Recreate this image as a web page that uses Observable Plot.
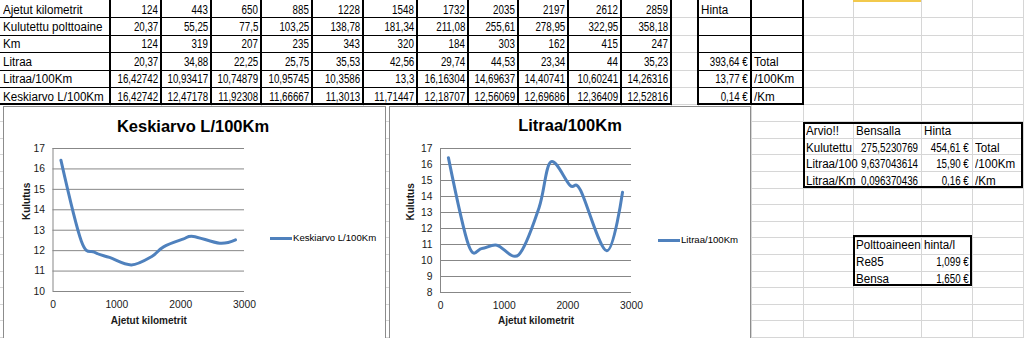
<!DOCTYPE html>
<html><head><meta charset="utf-8">
<script src="https://cdn.jsdelivr.net/npm/d3@7"></script>
<script src="https://cdn.jsdelivr.net/npm/@observablehq/plot@0.6"></script>
<style>
html,body{margin:0;padding:0;}
body{width:1024px;height:338px;overflow:hidden;background:#fff;position:relative;
 font-family:"Liberation Sans",Arial,sans-serif;}
.ab{position:absolute;box-sizing:border-box;}
.t{position:absolute;box-sizing:border-box;white-space:nowrap;font-size:12.5px;color:#000;overflow:visible;}
.t span{position:absolute;top:1.5px;white-space:nowrap;}
.g{position:absolute;background:#d6d6d6;}
.k{position:absolute;background:#000;}
.chartbox{position:absolute;background:#fff;border:1px solid #8c8c8c;box-sizing:border-box;}
.title{position:absolute;font-weight:bold;font-size:16.5px;color:#000;white-space:nowrap;transform:translate(-50%,-50%);}
.leg{position:absolute;font-size:9.6px;color:#000;white-space:nowrap;}
.legline{position:absolute;height:3px;background:#4F81BD;}
</style>
</head><body>
<script>
// ---------------- data ----------------
const rowLabels = ["Ajetut kilometrit","Kulutettu polttoaine","Km","Litraa","Litraa/100Km","Keskiarvo L/100Km"];
const ajetutKm = [124,443,650,885,1228,1548,1732,2035,2197,2612,2859];
const kulutettu = [20.37,55.25,77.5,103.25,138.78,181.34,211.08,255.61,278.95,322.95,358.18];
const kmLeg = [124,319,207,235,343,320,184,303,162,415,247];
const litraa = [20.37,34.88,22.25,25.75,35.53,42.56,29.74,44.53,23.34,44,35.23];
const litraa100 = [16.42742,10.93417,10.74879,10.95745,10.3586,13.3,16.16304,14.69637,14.40741,10.60241,14.26316];
const keskiarvo = [16.42742,12.47178,11.92308,11.66667,11.3013,11.71447,12.18707,12.56069,12.69686,12.36409,12.52816];
const hintaValues = ["Hinta","","","393,64 €","13,77 €","0,14 €"];
const hintaUnits = ["","","","Total","/100Km","/Km"];
const arvioLabels = ["Arvio!!","Kulutettu","Litraa/100","Litraa/Km"];
const arvioBensalla = ["Bensalla","275,5230769","9,637043614","0,096370436"];
const arvioHinta = ["Hinta","454,61 €","15,90 €","0,16 €"];
const arvioUnit = ["","Total","/100Km","/Km"];
const fuelNames = ["Polttoaineen","Re85","Bensa"];
const fuelPrices = ["hinta/l","1,099 €","1,650 €"];
const xTicks = [0,1000,2000,3000];
const yTicks1 = [10,11,12,13,14,15,16,17];
const yTicks2 = [8,9,10,11,12,13,14,15,16,17];
const chartTitles = ["Keskiarvo L/100Km","Litraa/100Km"];
const yLabel = "Kulutus";
const xLabel = "Ajetut kilometrit";

// ---------------- helpers ----------------
const fmt = v => String(v).replace(".", ",");
const body = document.body;
const LABEL_SCALE = 0.93, NUM_SCALE = 0.78;
function el(cls, css, text){
  const d = document.createElement("div");
  d.className = cls;
  Object.assign(d.style, css);
  if (text != null) d.textContent = text;
  body.appendChild(d);
  return d;
}
function cell(x0,x1,y0,y1,text,align){
  const d = el("t",{left:x0+"px",top:y0+"px",width:(x1-x0)+"px",height:(y1-y0)+"px",
    lineHeight:(y1-y0)+"px"});
  const s = document.createElement("span");
  s.textContent = text;
  s.style.lineHeight = (y1-y0)+"px";
  const numeric = /^[0-9]/.test(text);
  s.style.transform = `scaleX(${numeric ? NUM_SCALE : LABEL_SCALE})`;
  if (align === "right") { s.style.right = "3px"; s.style.transformOrigin = "right center"; }
  else { s.style.left = "3px"; s.style.transformOrigin = "left center"; }
  d.appendChild(s);
}

// ---------------- sheet gridlines ----------------
const upperRow = 17.4;
for (let k=1;k<=6;k++) el("g",{left:"0px",top:(k*upperRow)+"px",width:"1024px",height:"1px"});
for (let k=1;k<=14;k++) el("g",{left:"0px",top:(104.5+16.6*k)+"px",width:"1024px",height:"1px"});
[110,161,211,261,312,363,417,468,518,568,621,671,698,751,803,853,921,972,1023].forEach(x=>
  el("g",{left:x+"px",top:"0px",width:"1px",height:"338px"}));
el("ab",{left:"853px",top:"0px",width:"68px",height:"2px",background:"#f2c94c"});

// ---------------- main table ----------------
const colEdges = [0,110,161,211,261,312,363,417,468,518,568,621,671];
const tableRows = [ajetutKm, kulutettu, kmLeg, litraa, litraa100, keskiarvo];
el("ab",{left:"0px",top:"0px",width:"671px",height:"105px",background:"#fff"});
tableRows.forEach((row,r)=>{
  const y0 = r*upperRow, y1 = (r+1)*upperRow;
  cell(colEdges[0],colEdges[1],y0,y1,rowLabels[r],"left");
  row.forEach((v,i)=>cell(colEdges[i+1],colEdges[i+2],y0,y1,fmt(v),"right"));
});
for (let k=1;k<6;k++) el("k",{left:"0px",top:(k*upperRow)+"px",width:"671px",height:"1px"});
el("k",{left:"0px",top:"103px",width:"672px",height:"2px"});
colEdges.slice(1).forEach(x=>el("k",{left:(x-1)+"px",top:"0px",width:"2px",height:"105px"}));

// ---------------- hinta table ----------------
const hCols = [698,751,803];
el("ab",{left:"698px",top:"0px",width:"105px",height:"105px",background:"#fff"});
hintaValues.forEach((v,r)=>{
  const y0=r*upperRow,y1=(r+1)*upperRow;
  cell(hCols[0],hCols[1],y0,y1,v,r===0?"left":"right");
  cell(hCols[1],hCols[2],y0,y1,hintaUnits[r],"left");
});
for (let k=1;k<6;k++) el("k",{left:"698px",top:(k*upperRow)+"px",width:"105px",height:"1px"});
el("k",{left:"698px",top:"103px",width:"105px",height:"2px"});
el("k",{left:"697px",top:"0px",width:"2px",height:"105px"});
el("k",{left:"750px",top:"0px",width:"1.5px",height:"105px"});
el("k",{left:"802px",top:"0px",width:"2px",height:"105px"});

// ---------------- arvio box ----------------
const aRow = 16.5, aTop = 121.5;
el("ab",{left:"803px",top:aTop+"px",width:"220px",height:(4*aRow)+"px",border:"2px solid #000"});
arvioLabels.forEach((v,r)=>{
  const y0=aTop+r*aRow,y1=y0+aRow;
  cell(803,853,y0,y1,v,"left");
  cell(853,921,y0,y1,arvioBensalla[r],r===0?"left":"right");
  cell(921,972,y0,y1,arvioHinta[r],r===0?"left":"right");
  cell(972,1023,y0,y1,arvioUnit[r],"left");
});

// ---------------- fuel price box ----------------
const fTop = 235, fRow = 17;
el("ab",{left:"853px",top:fTop+"px",width:"119px",height:(3*fRow)+"px",border:"2px solid #000",background:"transparent"});
fuelNames.forEach((v,r)=>{
  const y0=fTop+r*fRow,y1=y0+fRow;
  cell(853,921,y0,y1,v,"left");
  cell(921,972,y0,y1,fuelPrices[r],r===0?"left":"right");
});

// ---------------- charts ----------------
const axisFont = '"Liberation Sans", Arial, sans-serif';
function makeChart(opts){
  const {values, yDomain, yTicks, width, height, ml, mr, mt, mb, yLabDx, xLabDy} = opts;
  const data = ajetutKm.map((x,i)=>({x, y: values[i]}));
  return Plot.plot({
    width, height, marginLeft: ml, marginRight: mr, marginTop: mt, marginBottom: mb,
    style: {fontFamily: axisFont, fontSize: "10.3px", color: "#1a1a1a", background: "transparent", overflow: "visible"},
    x: {domain: [0,3000], ticks: xTicks, tickSize: 0, tickPadding: 9, label: null, tickFormat: d => String(d)},
    y: {domain: yDomain, ticks: yTicks, tickSize: 0, tickPadding: 8, label: null, tickFormat: d => String(d)},
    marks: [
      Plot.ruleY(yTicks, {stroke: "#878787", strokeWidth: 1}),
      Plot.ruleX([0], {stroke: "#878787", strokeWidth: 1}),
      Plot.line(data, {x: "x", y: "y", curve: "cardinal", stroke: "#4F81BD", strokeWidth: 3, strokeLinejoin: "round", strokeLinecap: "round"}),
      Plot.text([yLabel], {text: d => d, frameAnchor: "left", dx: yLabDx, rotate: -90, fontWeight: "bold", fontSize: 10}),
      Plot.text([xLabel], {text: d => d, frameAnchor: "bottom", dy: xLabDy, fontWeight: "bold", fontSize: 10})
    ]
  });
}

// chart 1
el("chartbox",{left:"3px",top:"106px",width:"383px",height:"240px"});
const c1 = makeChart({values: keskiarvo, yDomain:[10,17], yTicks: yTicks1, width:382, height:231,
  ml:49.5, mr:141, mt:41, mb:47, yLabDx:-26, xLabDy:32});
c1.style.position="absolute"; c1.style.left="3px"; c1.style.top="107px";
body.appendChild(c1);
el("title",{left:"193px",top:"126px"}, chartTitles[0]);
el("legline",{left:"270px",top:"237px",width:"22px"});
el("leg",{left:"293px",top:"232px"}, chartTitles[0]);

// chart 2
el("chartbox",{left:"389px",top:"106px",width:"362px",height:"240px"});
const c2 = makeChart({values: litraa100, yDomain:[8,17], yTicks: yTicks2, width:361, height:231,
  ml:51, mr:119, mt:41, mb:46, yLabDx:-30, xLabDy:31});
c2.style.position="absolute"; c2.style.left="389px"; c2.style.top="107px";
body.appendChild(c2);
el("title",{left:"570px",top:"125px"}, chartTitles[1]);
el("legline",{left:"658px",top:"239px",width:"22px"});
el("leg",{left:"681px",top:"234px"}, chartTitles[1]);
</script>
</body></html>
